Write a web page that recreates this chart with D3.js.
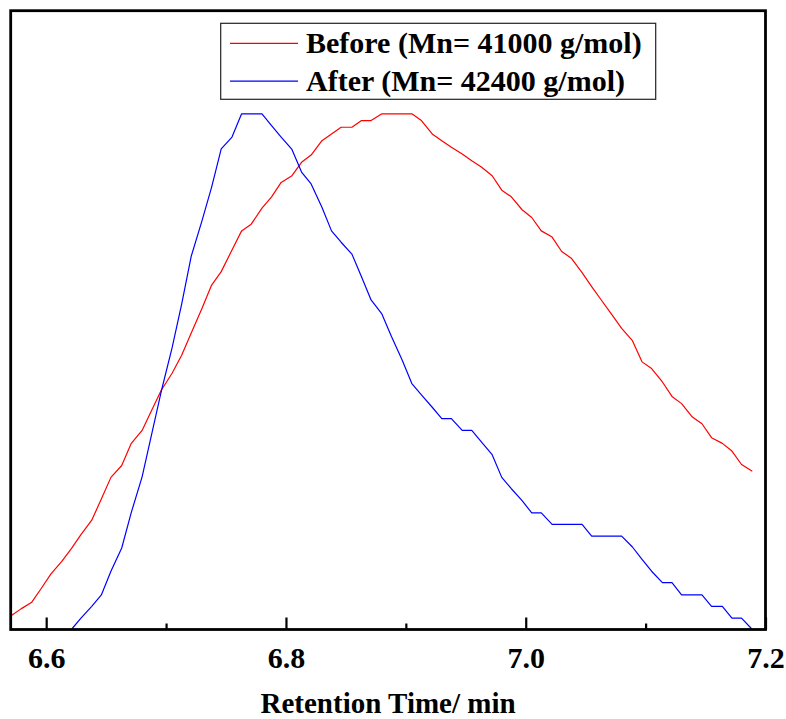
<!DOCTYPE html>
<html>
<head>
<meta charset="utf-8">
<script src="https://cdn.jsdelivr.net/npm/d3@7"></script>
<style>
  html, body { margin: 0; padding: 0; background: #ffffff; }
  svg { display: block; }
  text { font-family: "Liberation Serif", "Times New Roman", serif; font-weight: bold; fill: #000; }
</style>
</head>
<body>
<svg id="chart" width="786" height="719"></svg>
<script>
// ---- Data ----
const times = [6.571, 6.579, 6.588, 6.596, 6.604, 6.613, 6.621, 6.629, 6.638, 6.646,
  6.654, 6.663, 6.671, 6.680, 6.688, 6.696, 6.705, 6.713, 6.721, 6.730,
  6.738, 6.746, 6.755, 6.763, 6.771, 6.780, 6.788, 6.796, 6.805, 6.813,
  6.821, 6.830, 6.838, 6.846, 6.855, 6.863, 6.871, 6.880, 6.888, 6.897,
  6.905, 6.913, 6.922, 6.930, 6.938, 6.947, 6.955, 6.963, 6.972, 6.980,
  6.988, 6.997, 7.005, 7.013, 7.022, 7.030, 7.038, 7.047, 7.055, 7.063,
  7.072, 7.080, 7.089, 7.097, 7.105, 7.114, 7.122, 7.130, 7.139, 7.147,
  7.155, 7.164, 7.172, 7.180, 7.189];

const beforeValues = [2.7, 4.0, 5.3, 8.0, 10.8, 13.2, 15.7, 18.4, 21.2, 25.3,
  29.5, 31.8, 36.1, 38.6, 42.5, 46.4, 49.7, 53.2, 57.5, 62.3,
  66.8, 69.4, 73.6, 77.3, 78.6, 81.7, 83.9, 86.7, 88.0, 90.6,
  92.0, 94.8, 96.1, 97.4, 97.4, 98.7, 98.7, 100, 100, 100,
  100, 98.7, 96.1, 94.8, 93.5, 92.2, 90.9, 89.7, 88.0, 85.2,
  83.9, 81.4, 79.9, 77.3, 76.1, 73.3, 72.0, 69.2, 66.5, 63.9,
  61.0, 58.4, 56.0, 51.9, 50.6, 48.0, 45.2, 43.8, 41.2, 39.9,
  37.2, 36.1, 34.6, 32.0, 30.7];

const afterValues = [0, 0, 0, 0, 0, 0, 0, 2.2, 4.5, 6.7,
  11.3, 15.8, 22.7, 29.6, 37.9, 46.2, 54.6, 63.1, 72.4, 79.3,
  85.8, 93.2, 95.5, 100, 100, 100, 97.7, 95.5, 93.1, 88.7,
  86.4, 81.9, 77.3, 75.1, 72.8, 68.4, 63.9, 61.2, 56.8, 52.2,
  47.7, 45.5, 43.1, 40.9, 40.9, 38.6, 38.6, 36.4, 33.9, 29.5,
  27.3, 25.0, 22.6, 22.6, 20.4, 20.4, 20.4, 20.4, 18.1, 18.1,
  18.1, 18.1, 16.0, 13.6, 11.3, 9.1, 9.1, 6.7, 6.7, 6.7,
  4.5, 4.5, 2.2, 2.2, 0];

const seriesNames = ["Before (Mn= 41000 g/mol)", "After (Mn= 42400 g/mol)"];
const seriesColors = ["#ff0000", "#0000ff"];
const majorTicks = [6.6, 6.8, 7.0, 7.2];
const minorTicks = [6.7, 6.9, 7.1];
const xDomain = [6.5704, 7.2];
const yDomain = [0, 120];
const xTitle = "Retention Time/ min";

// ---- Layout ----
const plot = { left: 10.7, top: 10.7, right: 765.5, bottom: 629.5 };
const svg = d3.select("#chart");

const x = d3.scaleLinear().domain(xDomain).range([plot.left, plot.right]);
const y = d3.scaleLinear().domain(yDomain).range([plot.bottom, plot.top]);

// clip
svg.append("defs").append("clipPath").attr("id", "clip")
  .append("rect")
  .attr("x", plot.left).attr("y", plot.top)
  .attr("width", plot.right - plot.left).attr("height", plot.bottom - plot.top);

const series = [
  times.map((t, i) => ({ t, v: beforeValues[i] })),
  times.map((t, i) => ({ t, v: afterValues[i] }))
];

const line = d3.line().x(d => x(d.t)).y(d => y(d.v));

svg.append("g").attr("clip-path", "url(#clip)")
  .selectAll("path.series")
  .data(series)
  .join("path")
  .attr("class", "series")
  .attr("d", line)
  .attr("fill", "none")
  .attr("stroke", (d, i) => seriesColors[i])
  .attr("stroke-width", 1.2)
  .attr("stroke-linejoin", "round");

// frame
svg.append("rect")
  .attr("x", plot.left).attr("y", plot.top)
  .attr("width", plot.right - plot.left).attr("height", plot.bottom - plot.top)
  .attr("fill", "none").attr("stroke", "#000").attr("stroke-width", 2.8);

// minor ticks
const minorAxis = d3.axisBottom(x).tickValues(minorTicks).tickSize(-6).tickFormat("");
svg.append("g").attr("transform", `translate(0,${plot.bottom})`).call(minorAxis)
  .call(g => g.select(".domain").remove())
  .call(g => g.selectAll(".tick line").attr("stroke", "#000").attr("stroke-width", 2.2));

// major ticks + labels
const majorAxis = d3.axisBottom(x).tickValues(majorTicks).tickSize(-12)
  .tickFormat(d3.format(".1f"));
svg.append("g").attr("transform", `translate(0,${plot.bottom})`).call(majorAxis)
  .call(g => g.select(".domain").remove())
  .call(g => g.selectAll(".tick line").attr("stroke", "#000").attr("stroke-width", 2.2))
  .call(g => g.selectAll(".tick text")
    .attr("y", 38.5).attr("dy", 0)
    .attr("font-size", 30)
    .attr("font-family", "'Liberation Serif', 'Times New Roman', serif")
    .attr("font-weight", "bold")
    .attr("fill", "#000"));

// x title
svg.append("text")
  .attr("x", (plot.left + plot.right) / 2).attr("y", 712.5)
  .attr("text-anchor", "middle").attr("font-size", 29)
  .text(xTitle);

// legend
const legend = svg.append("g");
legend.append("rect")
  .attr("x", 220.7).attr("y", 23.3).attr("width", 435).attr("height", 76)
  .attr("fill", "#fff").attr("stroke", "#222").attr("stroke-width", 1.2);
const rows = legend.selectAll("g.row").data(seriesNames).join("g")
  .attr("class", "row")
  .attr("transform", (d, i) => `translate(0,${43.3 + i * 37.8})`);
rows.append("line")
  .attr("x1", 230).attr("x2", 298).attr("y1", 0).attr("y2", 0)
  .attr("stroke", (d, i) => seriesColors[i]).attr("stroke-width", 1.2);
rows.append("text")
  .attr("x", 306).attr("y", 10).attr("font-size", 30)
  .text(d => d);
</script>
</body>
</html>
